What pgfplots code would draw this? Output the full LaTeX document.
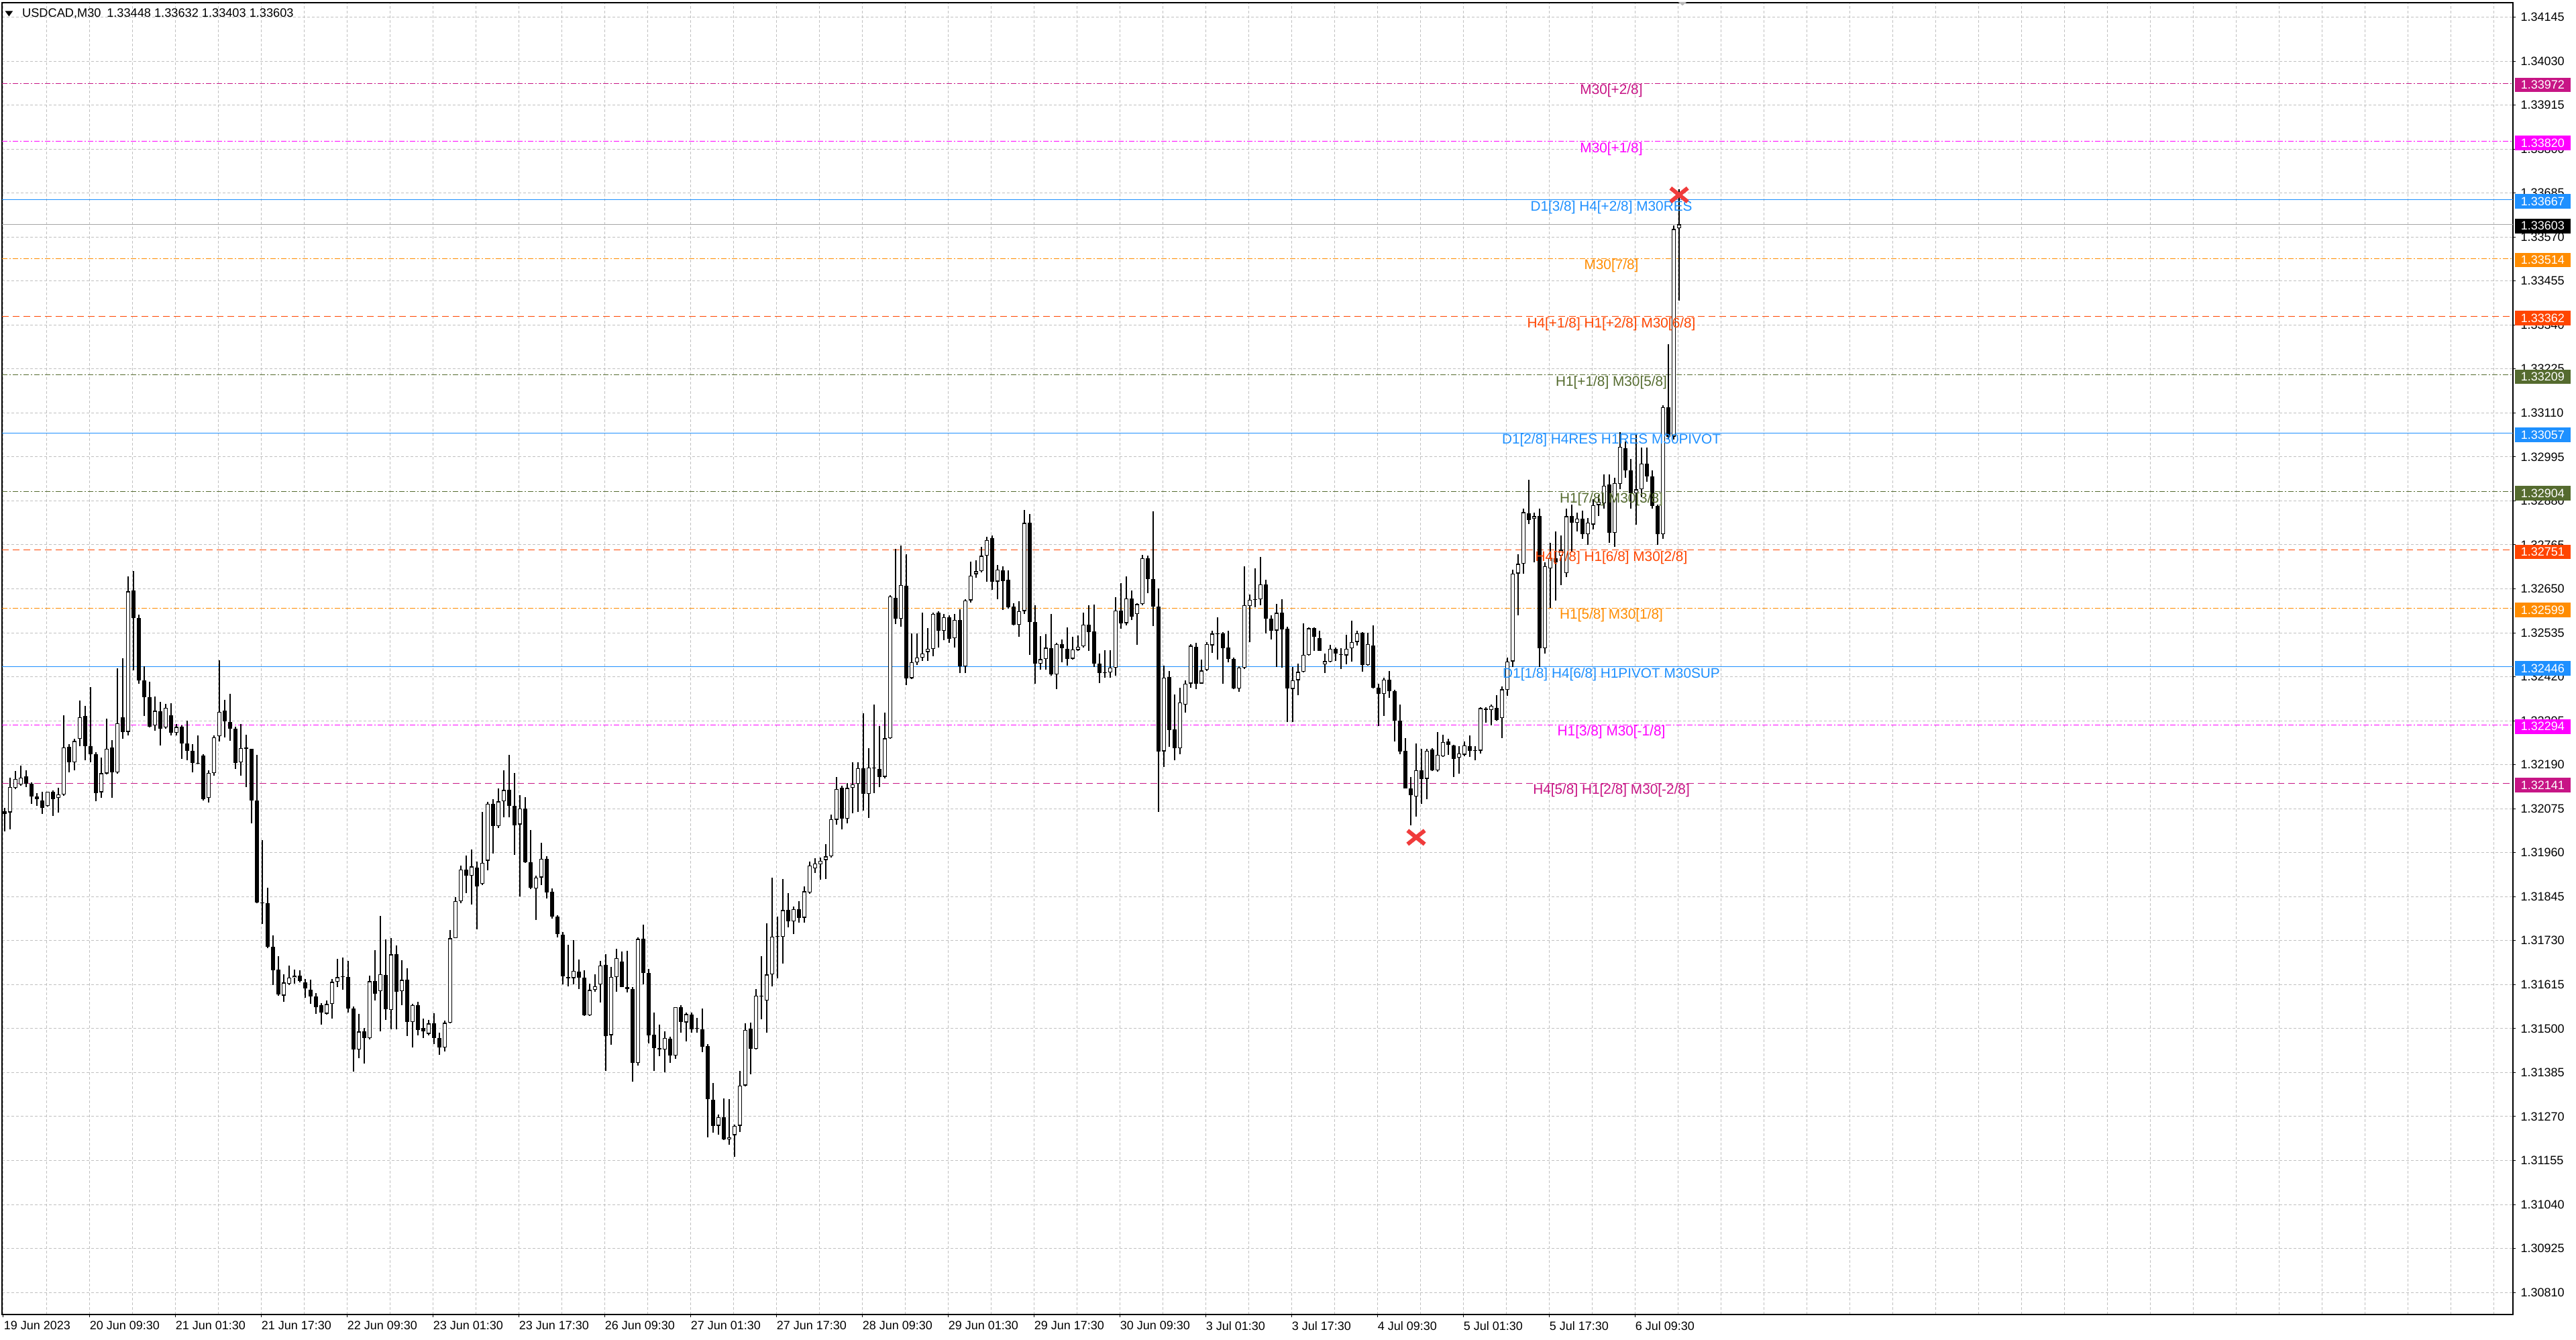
\documentclass[border=0pt]{standalone}
\usepackage{fontspec}
\setmainfont{Liberation Sans}
\usepackage{pgfplots}
\pgfplotsset{compat=1.18}
\usepackage{pgfplotstable}
\definecolor{mvr}{HTML}{C71585}
\definecolor{mag}{HTML}{FF00FF}
\definecolor{dblue}{HTML}{1E90FF}
\definecolor{dorange}{HTML}{FF8C00}
\definecolor{ored}{HTML}{FF4500}
\definecolor{olv}{HTML}{556B2F}
\definecolor{gridc}{HTML}{C0C0C0}
\definecolor{xred}{HTML}{F03C3C}
\newcommand{\tk}{\fontsize{4.5}{5}\selectfont}
\newcommand{\lvl}{\fontsize{5.2}{6}\selectfont}
\newcommand{\ttl}{\fontsize{4.55}{5}\selectfont}
\pgfplotstableread{
x O H L C
0.5 1.32068 1.32077 1.32015 1.32062
2.5 1.32065 1.32156 1.32021 1.32132
4.5 1.32129 1.32173 1.32126 1.32153
6.5 1.32138 1.32188 1.32135 1.32156
8.5 1.32160 1.32176 1.32132 1.32141
10.5 1.32141 1.32144 1.32088 1.32106
12.5 1.32106 1.32115 1.32082 1.32100
14.5 1.32097 1.32120 1.32062 1.32077
16.5 1.32082 1.32120 1.32080 1.32119
18.5 1.32119 1.32123 1.32056 1.32100
20.5 1.32103 1.32129 1.32065 1.32113
22.5 1.32112 1.32319 1.32109 1.32235
24.5 1.32236 1.32243 1.32170 1.32196
26.5 1.32196 1.32257 1.32176 1.32252
28.5 1.32257 1.32357 1.32238 1.32314
30.5 1.32317 1.32343 1.32202 1.32239
32.5 1.32238 1.32393 1.32196 1.32217
34.5 1.32217 1.32223 1.32094 1.32116
36.5 1.32118 1.32208 1.32103 1.32168
38.5 1.32167 1.32311 1.32164 1.32232
40.5 1.32235 1.32255 1.32103 1.32170
42.5 1.32170 1.32442 1.32167 1.32299
44.5 1.32314 1.32469 1.32257 1.32276
46.5 1.32276 1.32682 1.32267 1.32643
48.5 1.32646 1.32697 1.32436 1.32574
50.5 1.32574 1.32583 1.32401 1.32410
52.5 1.32410 1.32448 1.32317 1.32366
54.5 1.32367 1.32407 1.32287 1.32290
56.5 1.32293 1.32369 1.32279 1.32331
58.5 1.32330 1.32354 1.32240 1.32284
60.5 1.32287 1.32349 1.32284 1.32339
62.5 1.32319 1.32350 1.32267 1.32274
64.5 1.32273 1.32296 1.32267 1.32289
66.5 1.32289 1.32293 1.32205 1.32246
68.5 1.32246 1.32305 1.32202 1.32226
70.5 1.32226 1.32243 1.32170 1.32194
72.5 1.32192 1.32267 1.32191 1.32193
74.5 1.32214 1.32217 1.32097 1.32100
76.5 1.32103 1.32176 1.32091 1.32169
78.5 1.32168 1.32267 1.32161 1.32262
80.5 1.32264 1.32463 1.32250 1.32328
82.5 1.32331 1.32360 1.32261 1.32303
84.5 1.32302 1.32375 1.32252 1.32284
86.5 1.32284 1.32290 1.32179 1.32194
88.5 1.32196 1.32296 1.32161 1.32233
90.5 1.32235 1.32268 1.32132 1.32232
92.5 1.32232 1.32232 1.32036 1.32097
94.5 1.32097 1.32216 1.31827 1.31830
96.5 1.31830 1.31993 1.31774 1.31827
98.5 1.31828 1.31868 1.31711 1.31714
100.5 1.31714 1.31743 1.31614 1.31653
102.5 1.31654 1.31689 1.31586 1.31589
104.5 1.31586 1.31642 1.31570 1.31620
106.5 1.31617 1.31664 1.31614 1.31633
108.5 1.31633 1.31655 1.31617 1.31638
110.5 1.31639 1.31652 1.31620 1.31624
112.5 1.31620 1.31630 1.31580 1.31605
114.5 1.31601 1.31627 1.31564 1.31584
116.5 1.31584 1.31592 1.31539 1.31556
118.5 1.31561 1.31567 1.31511 1.31542
120.5 1.31539 1.31573 1.31536 1.31564
122.5 1.31564 1.31630 1.31526 1.31622
124.5 1.31622 1.31683 1.31608 1.31634
126.5 1.31634 1.31686 1.31601 1.31635
128.5 1.31634 1.31677 1.31542 1.31553
130.5 1.31553 1.31558 1.31388 1.31445
132.5 1.31445 1.31539 1.31423 1.31492
134.5 1.31493 1.31501 1.31409 1.31475
136.5 1.31475 1.31639 1.31471 1.31624
138.5 1.31624 1.31705 1.31573 1.31591
140.5 1.31598 1.31795 1.31492 1.31642
142.5 1.31641 1.31733 1.31523 1.31550
144.5 1.31548 1.31736 1.31498 1.31694
146.5 1.31694 1.31718 1.31498 1.31596
148.5 1.31598 1.31678 1.31561 1.31627
150.5 1.31627 1.31657 1.31481 1.31517
152.5 1.31517 1.31564 1.31450 1.31561
154.5 1.31561 1.31570 1.31482 1.31497
156.5 1.31501 1.31526 1.31476 1.31492
158.5 1.31486 1.31523 1.31482 1.31513
160.5 1.31513 1.31540 1.31460 1.31476
162.5 1.31476 1.31489 1.31431 1.31450
164.5 1.31450 1.31520 1.31440 1.31515
166.5 1.31515 1.31758 1.31514 1.31736
168.5 1.31736 1.31843 1.31736 1.31833
170.5 1.31833 1.31927 1.31827 1.31916
172.5 1.31915 1.31953 1.31855 1.31899
174.5 1.31899 1.31968 1.31824 1.31924
176.5 1.31920 1.31937 1.31760 1.31871
178.5 1.31878 1.32067 1.31875 1.31934
180.5 1.31939 1.32093 1.31913 1.32088
182.5 1.32088 1.32100 1.31958 1.32029
184.5 1.32029 1.32128 1.32024 1.32094
186.5 1.32094 1.32176 1.32053 1.32124
188.5 1.32124 1.32215 1.32053 1.32083
190.5 1.32083 1.32169 1.31954 1.32032
192.5 1.32034 1.32110 1.31845 1.32076
194.5 1.32076 1.32105 1.31934 1.31935
196.5 1.31935 1.32020 1.31864 1.31868
198.5 1.31866 1.31899 1.31784 1.31895
200.5 1.31895 1.31985 1.31875 1.31944
202.5 1.31944 1.31951 1.31840 1.31856
204.5 1.31857 1.31866 1.31787 1.31792
206.5 1.31792 1.31796 1.31738 1.31748
208.5 1.31746 1.31753 1.31615 1.31637
210.5 1.31635 1.31719 1.31611 1.31632
212.5 1.31632 1.31731 1.31615 1.31651
214.5 1.31649 1.31680 1.31604 1.31633
216.5 1.31633 1.31653 1.31533 1.31535
218.5 1.31535 1.31618 1.31533 1.31601
220.5 1.31601 1.31642 1.31597 1.31611
222.5 1.31615 1.31677 1.31569 1.31665
224.5 1.31667 1.31695 1.31389 1.31481
226.5 1.31483 1.31662 1.31457 1.31635
228.5 1.31635 1.31708 1.31597 1.31684
230.5 1.31675 1.31701 1.31608 1.31609
232.5 1.31609 1.31704 1.31595 1.31604
234.5 1.31604 1.31608 1.31362 1.31410
236.5 1.31410 1.31739 1.31403 1.31734
238.5 1.31734 1.31771 1.31615 1.31646
240.5 1.31646 1.31656 1.31462 1.31483
242.5 1.31484 1.31542 1.31389 1.31448
244.5 1.31448 1.31511 1.31428 1.31446
246.5 1.31445 1.31493 1.31386 1.31475
248.5 1.31473 1.31478 1.31410 1.31429
250.5 1.31429 1.31556 1.31421 1.31556
252.5 1.31556 1.31561 1.31490 1.31518
254.5 1.31516 1.31542 1.31466 1.31538
256.5 1.31536 1.31542 1.31489 1.31498
258.5 1.31502 1.31528 1.31490 1.31500
260.5 1.31498 1.31552 1.31438 1.31452
262.5 1.31454 1.31459 1.31216 1.31315
264.5 1.31313 1.31357 1.31227 1.31246
266.5 1.31246 1.31276 1.31223 1.31269
268.5 1.31269 1.31317 1.31209 1.31211
270.5 1.31211 1.31315 1.31196 1.31216
272.5 1.31221 1.31249 1.31164 1.31246
274.5 1.31246 1.31389 1.31230 1.31351
276.5 1.31351 1.31514 1.31348 1.31497
278.5 1.31500 1.31516 1.31380 1.31447
280.5 1.31447 1.31604 1.31445 1.31586
282.5 1.31584 1.31690 1.31525 1.31585
284.5 1.31573 1.31775 1.31490 1.31641
286.5 1.31641 1.31895 1.31611 1.31741
288.5 1.31740 1.31792 1.31632 1.31740
290.5 1.31740 1.31891 1.31670 1.31810
292.5 1.31810 1.31854 1.31764 1.31781
294.5 1.31780 1.31819 1.31747 1.31812
296.5 1.31812 1.31834 1.31777 1.31790
298.5 1.31790 1.31872 1.31777 1.31859
300.5 1.31856 1.31937 1.31853 1.31926
302.5 1.31919 1.31945 1.31907 1.31932
304.5 1.31929 1.31948 1.31889 1.31939
306.5 1.31941 1.31983 1.31891 1.31950
308.5 1.31950 1.32059 1.31948 1.32047
310.5 1.32046 1.32158 1.32034 1.32127
312.5 1.32129 1.32135 1.32021 1.32049
314.5 1.32049 1.32142 1.32036 1.32129
316.5 1.32129 1.32196 1.32063 1.32139
318.5 1.32140 1.32196 1.32066 1.32181
320.5 1.32181 1.32325 1.32070 1.32114
322.5 1.32114 1.32234 1.32051 1.32183
324.5 1.32183 1.32348 1.32116 1.32181
326.5 1.32178 1.32291 1.32131 1.32158
328.5 1.32158 1.32327 1.32155 1.32259
330.5 1.32259 1.32633 1.32257 1.32630
332.5 1.32626 1.32754 1.32557 1.32572
334.5 1.32572 1.32763 1.32550 1.32660
336.5 1.32658 1.32740 1.32399 1.32416
338.5 1.32416 1.32534 1.32414 1.32458
340.5 1.32458 1.32534 1.32450 1.32470
342.5 1.32470 1.32588 1.32462 1.32481
344.5 1.32485 1.32548 1.32462 1.32493
346.5 1.32493 1.32588 1.32474 1.32584
348.5 1.32588 1.32592 1.32496 1.32540
350.5 1.32540 1.32584 1.32515 1.32576
352.5 1.32576 1.32580 1.32508 1.32519
354.5 1.32521 1.32584 1.32496 1.32569
356.5 1.32569 1.32597 1.32429 1.32447
358.5 1.32447 1.32622 1.32429 1.32620
360.5 1.32620 1.32721 1.32614 1.32685
362.5 1.32688 1.32725 1.32679 1.32696
364.5 1.32696 1.32759 1.32693 1.32736
366.5 1.32736 1.32786 1.32668 1.32778
368.5 1.32782 1.32789 1.32647 1.32668
370.5 1.32669 1.32713 1.32622 1.32700
372.5 1.32698 1.32709 1.32595 1.32671
374.5 1.32673 1.32698 1.32599 1.32601
376.5 1.32603 1.32612 1.32554 1.32556
378.5 1.32556 1.32617 1.32525 1.32592
380.5 1.32592 1.32856 1.32584 1.32822
382.5 1.32822 1.32846 1.32477 1.32563
384.5 1.32563 1.32607 1.32401 1.32454
386.5 1.32454 1.32527 1.32439 1.32466
388.5 1.32466 1.32531 1.32439 1.32496
390.5 1.32494 1.32584 1.32422 1.32426
392.5 1.32426 1.32508 1.32388 1.32505
394.5 1.32505 1.32517 1.32458 1.32494
396.5 1.32493 1.32549 1.32449 1.32467
398.5 1.32467 1.32525 1.32464 1.32492
400.5 1.32490 1.32528 1.32488 1.32499
402.5 1.32500 1.32588 1.32496 1.32556
404.5 1.32556 1.32607 1.32487 1.32537
406.5 1.32539 1.32609 1.32445 1.32455
408.5 1.32455 1.32481 1.32404 1.32429
410.5 1.32430 1.32490 1.32418 1.32431
412.5 1.32431 1.32490 1.32418 1.32444
414.5 1.32444 1.32628 1.32422 1.32593
416.5 1.32593 1.32664 1.32546 1.32560
418.5 1.32560 1.32683 1.32555 1.32625
420.5 1.32625 1.32645 1.32568 1.32578
422.5 1.32584 1.32613 1.32504 1.32610
424.5 1.32610 1.32738 1.32607 1.32730
426.5 1.32730 1.32736 1.32639 1.32675
428.5 1.32676 1.32853 1.32553 1.32603
430.5 1.32603 1.32651 1.32066 1.32225
432.5 1.32225 1.32449 1.32184 1.32418
434.5 1.32420 1.32435 1.32237 1.32281
436.5 1.32283 1.32373 1.32201 1.32233
438.5 1.32233 1.32391 1.32218 1.32353
440.5 1.32347 1.32411 1.32326 1.32402
442.5 1.32402 1.32506 1.32391 1.32501
444.5 1.32499 1.32508 1.32388 1.32402
446.5 1.32402 1.32464 1.32401 1.32436
448.5 1.32438 1.32510 1.32435 1.32505
450.5 1.32502 1.32540 1.32483 1.32533
452.5 1.32531 1.32576 1.32465 1.32531
454.5 1.32533 1.32537 1.32401 1.32494
456.5 1.32496 1.32541 1.32457 1.32467
458.5 1.32467 1.32470 1.32387 1.32389
460.5 1.32389 1.32448 1.32381 1.32444
462.5 1.32444 1.32708 1.32440 1.32607
464.5 1.32605 1.32635 1.32511 1.32621
466.5 1.32621 1.32703 1.32601 1.32622
468.5 1.32622 1.32733 1.32607 1.32662
470.5 1.32662 1.32673 1.32533 1.32572
472.5 1.32572 1.32581 1.32517 1.32540
474.5 1.32541 1.32611 1.32446 1.32587
476.5 1.32588 1.32623 1.32444 1.32543
478.5 1.32545 1.32551 1.32301 1.32389
480.5 1.32388 1.32446 1.32301 1.32411
482.5 1.32411 1.32455 1.32371 1.32433
484.5 1.32433 1.32560 1.32432 1.32477
486.5 1.32477 1.32549 1.32476 1.32547
488.5 1.32547 1.32549 1.32488 1.32525
490.5 1.32521 1.32540 1.32487 1.32488
492.5 1.32452 1.32481 1.32430 1.32461
494.5 1.32459 1.32504 1.32458 1.32493
496.5 1.32493 1.32496 1.32461 1.32481
498.5 1.32477 1.32494 1.32440 1.32477
500.5 1.32476 1.32529 1.32453 1.32493
502.5 1.32494 1.32566 1.32459 1.32511
504.5 1.32511 1.32540 1.32502 1.32534
506.5 1.32535 1.32537 1.32433 1.32451
508.5 1.32451 1.32535 1.32449 1.32505
510.5 1.32502 1.32555 1.32389 1.32391
512.5 1.32391 1.32401 1.32291 1.32375
514.5 1.32375 1.32417 1.32318 1.32412
516.5 1.32412 1.32435 1.32364 1.32382
518.5 1.32383 1.32385 1.32250 1.32306
520.5 1.32306 1.32347 1.32218 1.32225
522.5 1.32227 1.32260 1.32128 1.32128
524.5 1.32128 1.32157 1.32031 1.32110
526.5 1.32107 1.32245 1.32055 1.32176
528.5 1.32175 1.32231 1.32087 1.32153
530.5 1.32153 1.32231 1.32099 1.32227
532.5 1.32229 1.32233 1.32173 1.32175
534.5 1.32175 1.32276 1.32172 1.32216
536.5 1.32212 1.32268 1.32210 1.32249
538.5 1.32250 1.32257 1.32216 1.32242
540.5 1.32241 1.32242 1.32157 1.32206
542.5 1.32208 1.32239 1.32166 1.32220
544.5 1.32216 1.32251 1.32212 1.32241
546.5 1.32239 1.32267 1.32210 1.32227
548.5 1.32226 1.32239 1.32201 1.32226
550.5 1.32227 1.32341 1.32220 1.32338
552.5 1.32337 1.32340 1.32300 1.32333
554.5 1.32333 1.32347 1.32293 1.32344
556.5 1.32338 1.32372 1.32306 1.32307
558.5 1.32312 1.32395 1.32260 1.32387
560.5 1.32385 1.32470 1.32370 1.32460
562.5 1.32460 1.32700 1.32445 1.32690
564.5 1.32690 1.32740 1.32580 1.32715
566.5 1.32715 1.32860 1.32690 1.32850
568.5 1.32847 1.32935 1.32820 1.32829
570.5 1.32834 1.32850 1.32720 1.32840
572.5 1.32840 1.32860 1.32445 1.32494
574.5 1.32494 1.32720 1.32480 1.32709
576.5 1.32703 1.32770 1.32600 1.32730
578.5 1.32730 1.32800 1.32620 1.32720
580.5 1.32736 1.32790 1.32660 1.32752
582.5 1.32691 1.32860 1.32680 1.32840
584.5 1.32840 1.32870 1.32745 1.32823
586.5 1.32823 1.32850 1.32800 1.32834
588.5 1.32834 1.32855 1.32780 1.32793
590.5 1.32793 1.32835 1.32765 1.32823
592.5 1.32818 1.32885 1.32805 1.32869
594.5 1.32869 1.32895 1.32840 1.32878
596.5 1.32873 1.32950 1.32860 1.32920
598.5 1.32922 1.32950 1.32770 1.32796
600.5 1.32796 1.32940 1.32760 1.32927
602.5 1.32924 1.33060 1.32910 1.33021
604.5 1.33018 1.33035 1.32940 1.32960
606.5 1.32960 1.32990 1.32860 1.32900
608.5 1.32900 1.33055 1.32818 1.32910
610.5 1.32910 1.33020 1.32890 1.32977
612.5 1.32977 1.33020 1.32930 1.32944
614.5 1.32944 1.32960 1.32860 1.32867
616.5 1.32867 1.32870 1.32765 1.32793
618.5 1.32793 1.33130 1.32780 1.33125
620.5 1.33125 1.33290 1.33040 1.33048
622.5 1.33048 1.33600 1.33040 1.33591
624.5 1.33593 1.33695 1.33403 1.33603
}\candles
\begin{document}
\begin{tikzpicture}[x=1pt,y=1pt]
\begin{axis}[
  at={(0.75pt,9.25pt)}, anchor=south west,
  scale only axis, width=935.75pt, height=488.75pt,
  xmin=-0.5, xmax=935.25, ymin=1.307522, ymax=1.341827,
  axis line style={black, line width=0.3pt},
  tick style={black, line width=0.25pt},
  tick align=outside, major tick length=1.1pt, minor tick length=0pt,
  xtick pos=bottom, ytick pos=right, yticklabel pos=right,
  xtick={0,32,...,608},
  xticklabels={19 Jun 2023,20 Jun 09:30,21 Jun 01:30,21 Jun 17:30,22 Jun 09:30,23 Jun 01:30,23 Jun 17:30,26 Jun 09:30,27 Jun 01:30,27 Jun 17:30,28 Jun 09:30,29 Jun 01:30,29 Jun 17:30,30 Jun 09:30,3 Jul 01:30,3 Jul 17:30,4 Jul 09:30,5 Jul 01:30,5 Jul 17:30,6 Jul 09:30},
  minor xtick={16,48,...,624,640,656,...,928},
  ytick={1.34145,1.34030,1.33915,1.33800,1.33685,1.33570,1.33455,1.33340,1.33225,1.33110,1.32995,1.32880,1.32765,1.32650,1.32535,1.32420,1.32305,1.32190,1.32075,1.31960,1.31845,1.31730,1.31615,1.31500,1.31385,1.31270,1.31155,1.31040,1.30925,1.30810},
  yticklabels={1.34145,1.34030,1.33915,1.33800,1.33685,1.33570,1.33455,1.33340,1.33225,1.33110,1.32995,1.32880,1.32765,1.32650,1.32535,1.32420,1.32305,1.32190,1.32075,1.31960,1.31845,1.31730,1.31615,1.31500,1.31385,1.31270,1.31155,1.31040,1.30925,1.30810},
  xmajorgrids, xminorgrids, ymajorgrids,
  major grid style={gridc, line width=0.25pt, dash pattern=on 1pt off 0.75pt},
  minor grid style={gridc, line width=0.25pt, dash pattern=on 1pt off 0.75pt},
  xticklabel style={font=\tk, anchor=north west, inner sep=0pt, yshift=-1.3pt},
  yticklabel style={font=\tk, anchor=west, inner sep=0pt, xshift=1.6pt},
  /pgf/number format/assume math mode=true,
]
% level lines
\addplot[mvr, line width=0.25pt, dash pattern=on 2pt off 0.75pt on 0.5pt off 0.75pt] coordinates {(-0.5,1.33972) (935.25,1.33972)};
\addplot[mag, line width=0.25pt, dash pattern=on 2pt off 0.75pt on 0.5pt off 0.75pt] coordinates {(-0.5,1.33820) (935.25,1.33820)};
\addplot[dblue, line width=0.3pt] coordinates {(-0.5,1.33667) (935.25,1.33667)};
\addplot[gray!70, line width=0.25pt] coordinates {(-0.5,1.33603) (935.25,1.33603)};
\addplot[dorange, line width=0.25pt, dash pattern=on 2pt off 0.75pt on 0.5pt off 0.75pt] coordinates {(-0.5,1.33514) (935.25,1.33514)};
\addplot[ored, line width=0.25pt, dash pattern=on 2.5pt off 1.5pt] coordinates {(-0.5,1.33362) (935.25,1.33362)};
\addplot[olv, line width=0.25pt, dash pattern=on 2pt off 0.75pt on 0.5pt off 0.75pt] coordinates {(-0.5,1.33209) (935.25,1.33209)};
\addplot[dblue, line width=0.3pt] coordinates {(-0.5,1.33057) (935.25,1.33057)};
\addplot[olv, line width=0.25pt, dash pattern=on 2pt off 0.75pt on 0.5pt off 0.75pt] coordinates {(-0.5,1.32904) (935.25,1.32904)};
\addplot[ored, line width=0.25pt, dash pattern=on 2.5pt off 1.5pt] coordinates {(-0.5,1.32751) (935.25,1.32751)};
\addplot[dorange, line width=0.25pt, dash pattern=on 2pt off 0.75pt on 0.5pt off 0.75pt] coordinates {(-0.5,1.32599) (935.25,1.32599)};
\addplot[dblue, line width=0.3pt] coordinates {(-0.5,1.32446) (935.25,1.32446)};
\addplot[mag, line width=0.25pt, dash pattern=on 2pt off 0.75pt on 0.5pt off 0.75pt] coordinates {(-0.5,1.32294) (935.25,1.32294)};
\addplot[mvr, line width=0.25pt, dash pattern=on 2.5pt off 1.5pt] coordinates {(-0.5,1.32141) (935.25,1.32141)};
% candles: wicks
\addplot[draw=none, mark=none, error bars/.cd, y dir=plus, y explicit, error mark=none,
  error bar style={draw=black, line width=0.3pt, solid}]
  table[x=x, y=L, y error plus expr={\thisrow{H}-\thisrow{L}}] {\candles};
% candles: bodies
\addplot[draw=none, mark=none, error bars/.cd, y dir=plus, y explicit, error mark=none,
  error bar style={draw=black, line width=1.5pt, solid}]
  table[x=x, y expr={min(\thisrow{O},\thisrow{C})}, y error plus expr={max(abs(\thisrow{C}-\thisrow{O}),0.00002)}] {\candles};
% bullish inner
\addplot[draw=none, mark=none, restrict expr to domain={\thisrow{C}-\thisrow{O}}{0.00005:1},
  error bars/.cd, y dir=plus, y explicit, error mark=none,
  error bar style={draw=white, line width=0.8pt, solid}]
  table[x=x, y expr={\thisrow{O}+0.000024}, y error plus expr={\thisrow{C}-\thisrow{O}-0.000048}] {\candles};
% fractal markers
\addplot[only marks, mark=x, mark size=4.5pt, xred, mark options={line width=1.5pt, xscale=1.0, yscale=0.8}]
  coordinates {(624.5,1.33680) (526.5,1.32000)};
% level labels
\node[text=mvr, font=\lvl, yshift=-2.75pt] at (axis cs:599.25,1.33972) {M30[+2/8]};
\node[text=mag, font=\lvl, yshift=-2.75pt] at (axis cs:599.25,1.33820) {M30[+1/8]};
\node[text=dblue, font=\lvl, yshift=-2.75pt] at (axis cs:599.25,1.33667) {D1[3/8] H4[+2/8] M30RES};
\node[text=dorange, font=\lvl, yshift=-2.75pt] at (axis cs:599.25,1.33514) {M30[7/8]};
\node[text=ored, font=\lvl, yshift=-2.75pt] at (axis cs:599.25,1.33362) {H4[+1/8] H1[+2/8] M30[6/8]};
\node[text=olv, font=\lvl, yshift=-2.75pt] at (axis cs:599.25,1.33209) {H1[+1/8] M30[5/8]};
\node[text=dblue, font=\lvl, yshift=-2.75pt] at (axis cs:599.25,1.33057) {D1[2/8] H4RES H1RES M30PIVOT};
\node[text=olv, font=\lvl, yshift=-2.75pt] at (axis cs:599.25,1.32904) {H1[7/8] M30[3/8]};
\node[text=ored, font=\lvl, yshift=-2.75pt] at (axis cs:599.25,1.32751) {H4[7/8] H1[6/8] M30[2/8]};
\node[text=dorange, font=\lvl, yshift=-2.75pt] at (axis cs:599.25,1.32599) {H1[5/8] M30[1/8]};
\node[text=dblue, font=\lvl, yshift=-2.75pt] at (axis cs:599.25,1.32446) {D1[1/8] H4[6/8] H1PIVOT M30SUP};
\node[text=mag, font=\lvl, yshift=-2.75pt] at (axis cs:599.25,1.32294) {H1[3/8] M30[-1/8]};
\node[text=mvr, font=\lvl, yshift=-2.75pt] at (axis cs:599.25,1.32141) {H4[5/8] H1[2/8] M30[-2/8]};
% anchors for price boxes
\coordinate (b1) at (axis cs:935.25,1.33972);
\coordinate (b2) at (axis cs:935.25,1.33820);
\coordinate (b3) at (axis cs:935.25,1.33667);
\coordinate (b4) at (axis cs:935.25,1.33603);
\coordinate (b5) at (axis cs:935.25,1.33514);
\coordinate (b6) at (axis cs:935.25,1.33362);
\coordinate (b7) at (axis cs:935.25,1.33209);
\coordinate (b8) at (axis cs:935.25,1.33057);
\coordinate (b9) at (axis cs:935.25,1.32904);
\coordinate (b10) at (axis cs:935.25,1.32751);
\coordinate (b11) at (axis cs:935.25,1.32599);
\coordinate (b12) at (axis cs:935.25,1.32446);
\coordinate (b13) at (axis cs:935.25,1.32294);
\coordinate (b14) at (axis cs:935.25,1.32141);
\end{axis}
\tikzset{pbox/.style={anchor=west, text=white, font=\tk, inner xsep=2.25pt, inner ysep=0pt, minimum height=5.4pt, xshift=0.5pt, yshift=-0.6pt}}
\node[pbox, fill=mvr] at (b1) {1.33972};
\node[pbox, fill=mag] at (b2) {1.33820};
\node[pbox, fill=dblue] at (b3) {1.33667};
\node[pbox, fill=black] at (b4) {1.33603};
\node[pbox, fill=dorange] at (b5) {1.33514};
\node[pbox, fill=ored] at (b6) {1.33362};
\node[pbox, fill=olv] at (b7) {1.33209};
\node[pbox, fill=dblue] at (b8) {1.33057};
\node[pbox, fill=olv] at (b9) {1.32904};
\node[pbox, fill=ored] at (b10) {1.32751};
\node[pbox, fill=dorange] at (b11) {1.32599};
\node[pbox, fill=dblue] at (b12) {1.32446};
\node[pbox, fill=mag] at (b13) {1.32294};
\node[pbox, fill=mvr] at (b14) {1.32141};
% title
\fill[black] (1.9,494.9) -- (4.8,494.9) -- (3.35,492.9) -- cycle;
\node[anchor=west, font=\ttl, inner sep=0pt] at (8.1,494) {USDCAD,M30\hspace{2.2pt}1.33448 1.33632 1.33403 1.33603};
\fill[gray!55] (625.4,498.3) -- (628.6,498.3) -- (627,496.9) -- cycle;
\pgfresetboundingbox
\path[use as bounding box] (0,0) rectangle (960,499);
\end{tikzpicture}
\end{document}
